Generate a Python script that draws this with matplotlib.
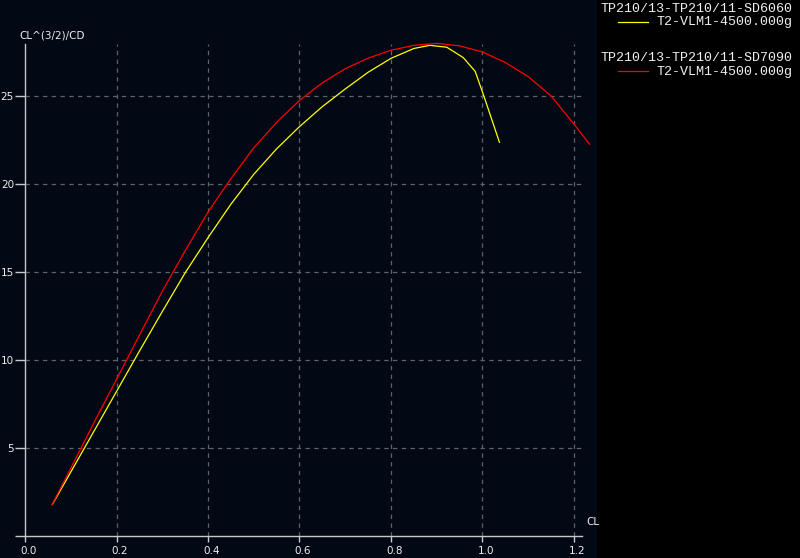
import numpy as np
import matplotlib
matplotlib.use("Agg")
import matplotlib.pyplot as plt
from matplotlib.lines import Line2D
from matplotlib.transforms import ScaledTranslation

# polar data
cl_7090 = [0.059, 0.1, 0.15, 0.2, 0.25, 0.3, 0.35, 0.4, 0.45, 0.5, 0.55, 0.6,
           0.65, 0.7, 0.75, 0.8, 0.85, 0.9, 0.95, 1.0, 1.05, 1.1, 1.15, 1.2, 1.234]
pw_7090 = [1.76, 3.85, 6.4, 8.9, 11.4, 13.9, 16.2, 18.4, 20.3, 22.05, 23.5, 24.75,
           25.75, 26.55, 27.15, 27.6, 27.88, 27.99, 27.85, 27.5, 26.9, 26.1, 25.0, 23.4, 22.26]

cl_6060 = [0.06, 0.1, 0.15, 0.2, 0.25, 0.3, 0.35, 0.4, 0.45, 0.5, 0.55, 0.6,
           0.65, 0.7, 0.75, 0.8, 0.85, 0.885, 0.922, 0.958, 0.984, 1.003, 1.037]
pw_6060 = [1.8, 3.63, 5.92, 8.21, 10.5, 12.75, 14.95, 16.95, 18.85, 20.55, 22.0, 23.26,
           24.4, 25.4, 26.35, 27.14, 27.7, 27.88, 27.77, 27.18, 26.4, 25.0, 22.37]

x_ticks = [0.0, 0.2, 0.4, 0.6, 0.8, 1.0, 1.2]
y_ticks = [0, 5, 10, 15, 20, 25]
y_ticklabels = ["", "5", "10", "15", "20", "25"]

legend_names = ["TP210/13-TP210/11-SD6060", "TP210/13-TP210/11-SD7090"]
legend_sub = "T2-VLM1-4500.000g"
colors = ["#ffff00", "#ff0000"]

BG = "#020914"
AX = "#c8c8c8"
GRID = "#5c636b"
TXT = "#eeeeee"

W, H = 800, 558
fig = plt.figure(figsize=(W / 100, H / 100), dpi=100, facecolor=BG)

# black legend panel on the right
fig.patches.append(plt.Rectangle((597 / W, 0), 1 - 597 / W, 1, transform=fig.transFigure,
                                 facecolor="#000000", edgecolor="none", zorder=0))

ax = fig.add_axes([25 / W, (H - 536) / H, (582 - 25) / W, (536 - 44) / H])
ax.set_facecolor(BG)
ax.set_xlim(0, 557 / 457.5)
ax.set_ylim(0, 492 / 17.6)

for s in ["top", "right"]:
    ax.spines[s].set_visible(False)
for s in ["left", "bottom"]:
    ax.spines[s].set_color(AX)
    ax.spines[s].set_linewidth(1.0)

ax.set_xticks(x_ticks)
ax.set_xticklabels([f"{v:.1f}" for v in x_ticks])
ax.set_yticks(y_ticks)
ax.set_yticklabels(y_ticklabels)
ax.tick_params(axis="x", colors=AX, labelcolor=TXT, length=4, width=1, labelsize=7.5, pad=3)
ax.tick_params(axis="y", colors=AX, labelcolor=TXT, length=7, width=1, labelsize=7.5, pad=1)

# x labels sit a little right of their ticks in the original
shift = ScaledTranslation(3.5 / 100, 0, fig.dpi_scale_trans)
for lab in ax.get_xticklabels():
    lab.set_transform(lab.get_transform() + shift)

for v in x_ticks[1:]:
    ax.axvline(v, color=GRID, lw=0.9, ls=(0, (3.5, 3.5)), zorder=1)
for v in y_ticks[1:]:
    ax.axhline(v, color=GRID, lw=0.9, ls=(0, (3.5, 3.5)), zorder=1)

ax.plot(cl_6060, pw_6060, color=colors[0], lw=0.9, clip_on=False, zorder=3)
ax.plot(cl_7090, pw_7090, color=colors[1], lw=0.9, clip_on=False, zorder=3)

# axis titles
fig.text(19 / W, 1 - 36 / H, "CL^(3/2)/CD", color=TXT, fontsize=7.5, va="center", ha="left")
fig.text(586 / W, 1 - 522 / H, "CL", color=TXT, fontsize=7.5, va="center", ha="left")

# legend
mono = "Liberation Mono"
for i, (name, col) in enumerate(zip(legend_names, colors)):
    y0 = 8.5 + i * 49.5
    fig.text(793 / W, 1 - y0 / H, name, color=TXT, fontsize=9.6, family=mono,
             ha="right", va="center")
    fig.text(793 / W, 1 - (y0 + 13.5) / H, legend_sub, color=TXT, fontsize=9.6, family=mono,
             ha="right", va="center")
    fig.lines.append(Line2D([618 / W, 648 / W], [1 - (y0 + 13) / H] * 2, color=col, lw=0.9,
                            transform=fig.transFigure))

fig.savefig("out.png", dpi=100, facecolor=BG)
